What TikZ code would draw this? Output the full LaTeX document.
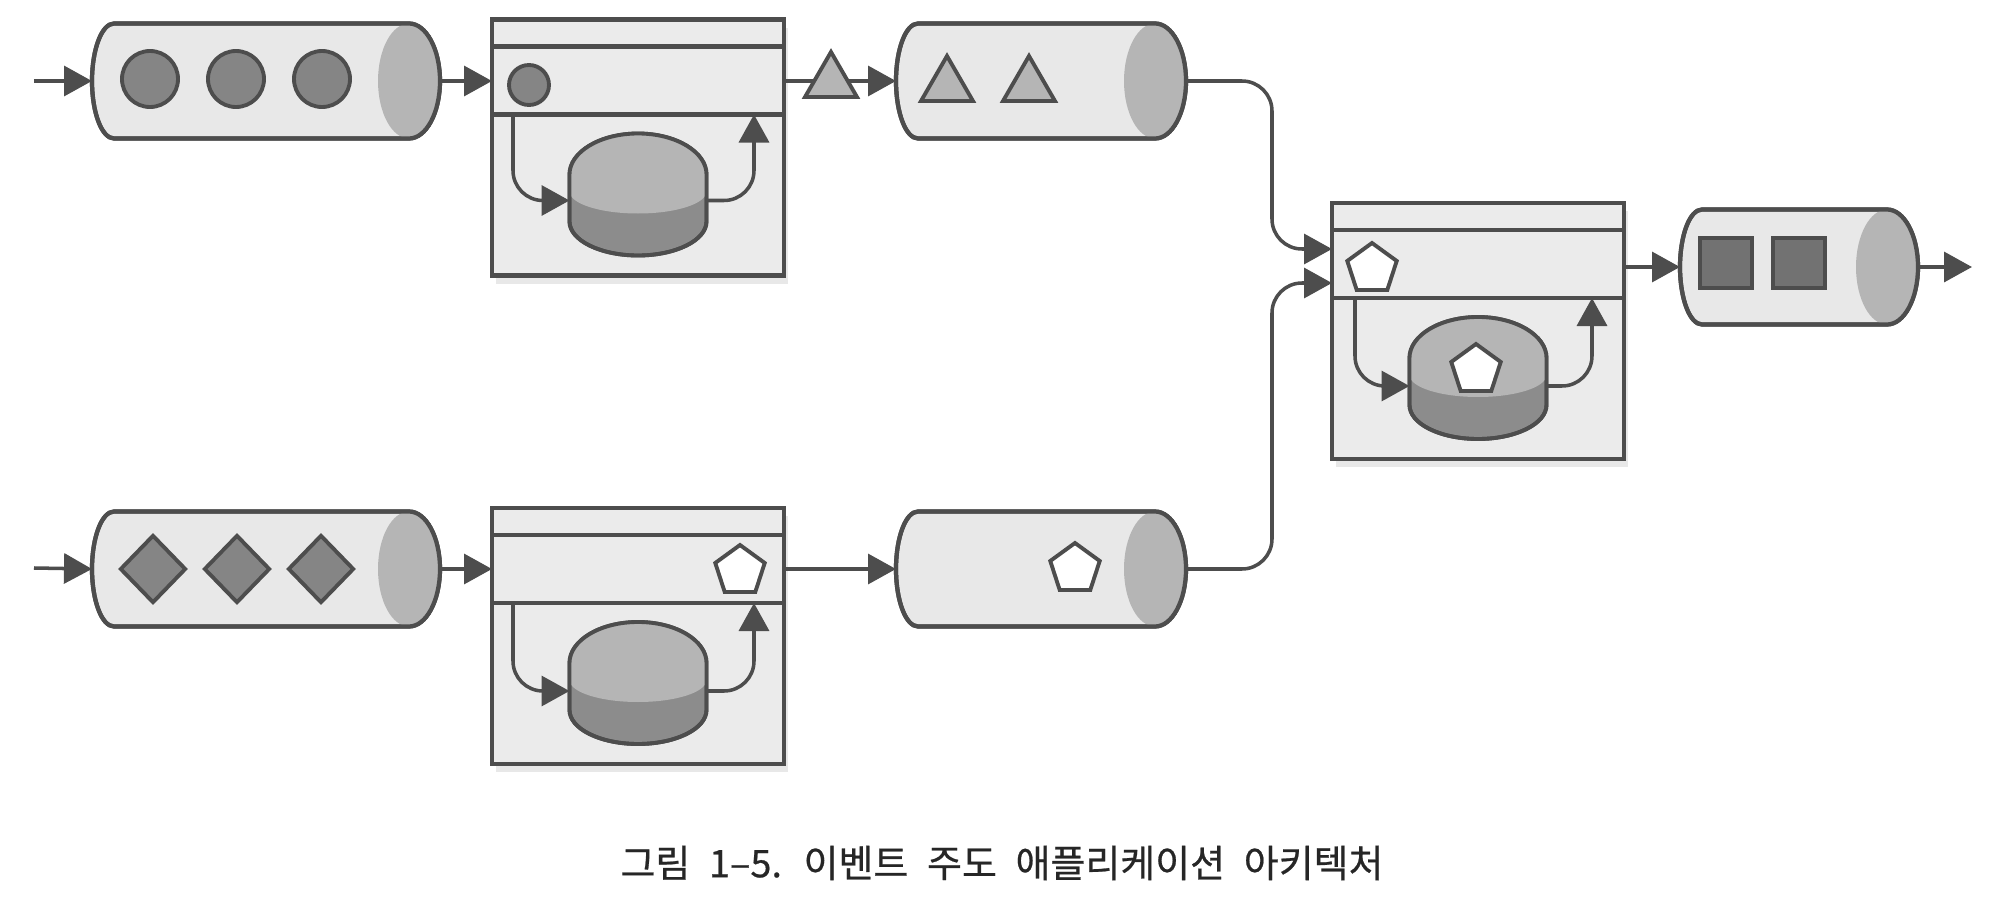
\documentclass[tikz,border=0pt]{standalone}
\usepackage{fontspec}
\newfontfamily\krfont{Noto Sans CJK KR}[WordSpace=2.2,AutoFakeBold=0.6]
\usepackage{xcolor}
\usetikzlibrary{arrows.meta,calc,positioning,shapes.geometric,shadows}

\definecolor{edge}{HTML}{4D4D4D}
\definecolor{pale}{HTML}{E8E8E8}
\definecolor{boxgray}{HTML}{EBEBEB}
\definecolor{midgray}{HTML}{B5B5B5}
\definecolor{tokengray}{HTML}{858585}
\definecolor{blockgray}{HTML}{727272}
\definecolor{dbdark}{HTML}{8C8C8C}
\definecolor{dblight}{HTML}{B5B5B5}

% queue tube drawn round a named box node
\newcommand\qcyl[1]{%
  \draw[qline,fill=pale] ([xshift=2.2mm]#1.north west)
    arc[start angle=90,end angle=270,x radius=2.2mm,y radius=5.75mm]
    -- ([xshift=-3.1mm]#1.south east)
    arc[start angle=-90,end angle=90,x radius=3.1mm,y radius=5.75mm] -- cycle;
  \fill[midgray] ([xshift=-3.1mm]#1.east) ellipse[x radius=3.1mm,y radius=5.75mm];
  \draw[qline] ([xshift=2.2mm]#1.north west)
    arc[start angle=90,end angle=270,x radius=2.2mm,y radius=5.75mm]
    -- ([xshift=-3.1mm]#1.south east)
    arc[start angle=-90,end angle=90,x radius=3.1mm,y radius=5.75mm] -- cycle;}
% store drum drawn round a named box node
\newcommand\dbcyl[1]{%
  \draw[dbline,fill=dbdark] ([yshift=-4.1mm]#1.north west)
    arc[start angle=180,end angle=0,x radius=6.85mm,y radius=4.1mm]
    -- ([yshift=3.4mm]#1.south east)
    arc[start angle=0,end angle=-180,x radius=6.85mm,y radius=3.4mm] -- cycle;
  \fill[dblight] ([yshift=-4.1mm]#1.north west)
    arc[start angle=180,end angle=0,x radius=6.85mm,y radius=4.1mm]
    -- ([yshift=-5.8mm]#1.north east)
    arc[start angle=0,end angle=-180,x radius=6.85mm,y radius=2.2mm] -- cycle;
  \draw[dbline] ([yshift=-4.1mm]#1.north west)
    arc[start angle=180,end angle=0,x radius=6.85mm,y radius=4.1mm]
    -- ([yshift=3.4mm]#1.south east)
    arc[start angle=0,end angle=-180,x radius=6.85mm,y radius=3.4mm] -- cycle;}

\begin{document}
\begin{tikzpicture}[>={Triangle[length=2.8mm,width=3.0mm]},
  flow/.style={->,draw=edge,line width=1pt},
  qbox/.style={rectangle,minimum height=1.15cm,inner sep=0pt,outer sep=0pt},
  qline/.style={draw=edge,line width=1.2pt},
  proc/.style={rectangle,draw=edge,fill=boxgray,line width=1.3pt,minimum width=2.92cm,
    minimum height=2.56cm,inner sep=0pt,outer sep=0pt,
    drop shadow={opacity=0.18,shadow xshift=0.4mm,shadow yshift=-0.8mm}},
  rowline/.style={draw=edge,line width=1.3pt},
  dbbox/.style={rectangle,minimum width=1.37cm,minimum height=1.22cm,inner sep=0pt,outer sep=0pt},
  dbline/.style={draw=edge,line width=1.1pt},
  ball/.style={circle,draw=edge,fill=tokengray,line width=1.1pt,minimum size=0.56cm,inner sep=0pt},
  gem/.style={diamond,draw=edge,fill=tokengray,line width=1.1pt,minimum width=0.66cm,
    minimum height=0.68cm,inner sep=0pt},
  tri/.style={regular polygon,regular polygon sides=3,draw=edge,fill=midgray,line width=1.1pt,
    minimum size=0.6cm,inner sep=0pt},
  penta/.style={regular polygon,regular polygon sides=5,draw=edge,fill=white,line width=1.1pt,
    minimum size=0.52cm,inner sep=0pt},
  block/.style={rectangle,draw=edge,fill=blockgray,line width=1.1pt,minimum width=0.52cm,
    minimum height=0.5cm,inner sep=0pt}]
\useasboundingbox (0,0) rectangle (19.96,-9.18);

% queues
\node[qbox,minimum width=3.48cm] (q1) at (2.66,-0.81) {}; \qcyl{q1}
\node[qbox,minimum width=2.90cm] (q2) at (10.41,-0.81) {}; \qcyl{q2}
\node[qbox,minimum width=3.48cm] (q3) at (2.66,-5.69) {}; \qcyl{q3}
\node[qbox,minimum width=2.90cm] (q5) at (10.41,-5.69) {}; \qcyl{q5}
\node[qbox,minimum width=2.38cm] (q4) at (17.99,-2.67) {}; \qcyl{q4}

% events in the queues
\node[ball] (b1) at (1.50,-0.79) {};
\node[ball] (b2) at (2.36,-0.79) {};
\node[ball] (b3) at (3.22,-0.79) {};
\node[gem] (g1) at (1.53,-5.69) {};
\node[gem] (g2) at (2.37,-5.69) {};
\node[gem] (g3) at (3.21,-5.69) {};
\node[tri] (t1) at (9.47,-0.86) {};
\node[tri] (t2) at (10.29,-0.86) {};
\node[penta] (f1) at (10.75,-5.69) {};
\node[block] (s1) at (17.26,-2.63) {};
\node[block] (s2) at (17.99,-2.63) {};

% processors
\node[proc] (p1) at (6.38,-1.475) {};
\draw[rowline] ([yshift=-2.7mm]p1.north west) -- ([yshift=-2.7mm]p1.north east);
\draw[rowline] ([yshift=-9.5mm]p1.north west) -- ([yshift=-9.5mm]p1.north east);
\node[dbbox] (db1) at ([yshift=-17.5mm]p1.north) {}; \dbcyl{db1}
\node[ball,minimum size=0.4cm] (b0) at (5.29,-0.85) {};

\node[proc] (p2) at (6.38,-6.36) {};
\draw[rowline] ([yshift=-2.7mm]p2.north west) -- ([yshift=-2.7mm]p2.north east);
\draw[rowline] ([yshift=-9.5mm]p2.north west) -- ([yshift=-9.5mm]p2.north east);
\node[dbbox] (db2) at ([yshift=-17.5mm]p2.north) {}; \dbcyl{db2}
\node[penta] (h2) at (7.40,-5.71) {};

\node[proc] (p3) at (14.78,-3.31) {};
\draw[rowline] ([yshift=-2.7mm]p3.north west) -- ([yshift=-2.7mm]p3.north east);
\draw[rowline] ([yshift=-9.5mm]p3.north west) -- ([yshift=-9.5mm]p3.north east);
\node[dbbox] (db3) at ([yshift=-17.5mm]p3.north) {}; \dbcyl{db3}
\node[penta] (h3) at (13.72,-2.69) {};
\node[penta] (d3) at (14.76,-3.70) {};

% inner flows
\coordinate (p1a) at ([xshift=2.1mm,yshift=-9.5mm]p1.north west);
\coordinate (p1b) at ([xshift=-3mm,yshift=-9.5mm]p1.north east);
\draw[flow,rounded corners=3mm] (p1a) |- ([yshift=-0.6mm]db1.west);
\draw[flow,rounded corners=3mm] ([yshift=-0.6mm]db1.east) -| (p1b);
\coordinate (p2a) at ([xshift=2.1mm,yshift=-9.5mm]p2.north west);
\coordinate (p2b) at ([xshift=-3mm,yshift=-9.5mm]p2.north east);
\draw[flow,rounded corners=3mm] (p2a) |- ([yshift=-0.8mm]db2.west);
\draw[flow,rounded corners=3mm] ([yshift=-0.8mm]db2.east) -| (p2b);
\coordinate (p3a) at ([xshift=2.3mm,yshift=-9.5mm]p3.north west);
\coordinate (p3b) at ([xshift=-3.2mm,yshift=-9.5mm]p3.north east);
\draw[flow,rounded corners=3mm] (p3a) |- ([yshift=-0.8mm]db3.west);
\draw[flow,rounded corners=3mm] ([yshift=-0.8mm]db3.east) -| (p3b);

% flows between stages
\coordinate (in1) at (0.34,-0.81);
\coordinate (in3) at (0.34,-5.68);
\coordinate (out4) at (19.72,-2.67);
\coordinate (p3in1) at ([yshift=-4.6mm]p3.north west);
\coordinate (p3in2) at ([yshift=-8.0mm]p3.north west);
\draw[flow] (in1) -- (q1.west);
\draw[flow] (q1.east) -- (q1.east -| p1.west);
\draw[flow] (p1.east |- q2.west) -- (q2.west);
\node[tri] (t0) at (8.31,-0.82) {};
\draw[flow,rounded corners=3mm] (q2.east) -| ([xshift=-6mm]p3in1) -- (p3in1);
\draw[flow] (in3) -- (q3.west);
\draw[flow] (q3.east) -- (q3.east -| p2.west);
\draw[flow] (p2.east |- q5.west) -- (q5.west);
\draw[flow,rounded corners=3mm] (q5.east) -| ([xshift=-6mm]p3in2) -- (p3in2);
\draw[flow] (p3.east |- q4.west) -- (q4.west);
\draw[flow] (q4.east) -- (out4);

\node[font=\krfont\bfseries\fontsize{10.8}{13}\selectfont,text=black!85] (cap) at (10.02,-8.63)
  {그림 1–5. 이벤트 주도 애플리케이션 아키텍처};
\end{tikzpicture}
\end{document}
